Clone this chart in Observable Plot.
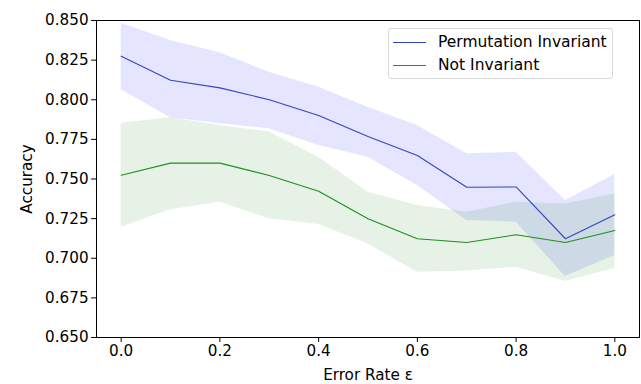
<!DOCTYPE html>
<html>
<head>
<meta charset="utf-8">
<script src="https://cdn.jsdelivr.net/npm/d3@7"></script>
<script src="https://cdn.jsdelivr.net/npm/@observablehq/plot@0.6"></script>
<style>
  html, body { margin: 0; padding: 0; background: #fff; }
  #wrap { position: relative; width: 641px; height: 384px; font-family: "DejaVu Sans", sans-serif; }
  #legend { position: absolute; left: 388px; top: 28px; width: 225px; height: 51px; box-sizing: border-box;
    border: 1px solid #d9d9d9; border-radius: 3px; background: rgba(255,255,255,0.8);
    font-family: "DejaVu Sans", sans-serif; font-size: 15.5px; color: #000; }
  .row { position: absolute; left: 4px; height: 18px; display: flex; align-items: center; white-space: nowrap; }
  .sw { width: 33px; height: 0; border-top: 1.2px solid; margin-right: 12px; }
</style>
</head>
<body>
<div id="wrap">
  <div id="chart"></div>
  <div id="legend">
    <div class="row" style="top:4px"><div class="sw" style="border-color:#3346c0"></div><span>Permutation Invariant</span></div>
    <div class="row" style="top:27px"><div class="sw" style="border-color:#1f8f1f"></div><span>Not Invariant</span></div>
  </div>
</div>
<script>
const eps = [0, 0.1, 0.2, 0.3, 0.4, 0.5, 0.6, 0.7, 0.8, 0.9, 1.0];
const permMean = [0.8275, 0.8123, 0.8075, 0.800, 0.790, 0.7768, 0.7648, 0.7448, 0.745, 0.7123, 0.7274];
const permLo   = [0.8063, 0.7886, 0.7848, 0.7817, 0.7711, 0.7638, 0.7459, 0.7238, 0.7227, 0.6885, 0.7017];
const permHi   = [0.8483, 0.8374, 0.8296, 0.8174, 0.8079, 0.7953, 0.7837, 0.7659, 0.7669, 0.7364, 0.7528];
const notMean  = [0.7524, 0.760, 0.760, 0.7522, 0.7423, 0.7249, 0.7123, 0.7099, 0.7148, 0.7099, 0.7175];
const notLo    = [0.7196, 0.7306, 0.7354, 0.7249, 0.7213, 0.7091, 0.6912, 0.6919, 0.6944, 0.6853, 0.6937];
const notHi    = [0.7852, 0.7886, 0.7838, 0.7796, 0.7638, 0.7417, 0.7333, 0.729, 0.7354, 0.7343, 0.7406];
const xTicks = [0, 0.2, 0.4, 0.6, 0.8, 1.0];
const yTicks = [0.65, 0.675, 0.7, 0.725, 0.75, 0.775, 0.8, 0.825, 0.85];

const perm = eps.map((e, i) => ({x: e, m: permMean[i], lo: permLo[i], hi: permHi[i]}));
const notI = eps.map((e, i) => ({x: e, m: notMean[i], lo: notLo[i], hi: notHi[i]}));

const chart = Plot.plot({
  width: 641,
  height: 384,
  marginLeft: 96,
  marginRight: 2,
  marginTop: 20,
  marginBottom: 47,
  style: {fontFamily: "'DejaVu Sans', sans-serif", fontSize: "15.2px", color: "#000", background: "#fff"},
  x: {domain: [-0.05, 1.05]},
  y: {domain: [0.65, 0.85]},
  marks: [
    Plot.areaY(perm, {x: "x", y1: "lo", y2: "hi", fill: "blue", fillOpacity: 0.1}),
    Plot.areaY(notI, {x: "x", y1: "lo", y2: "hi", fill: "green", fillOpacity: 0.1}),
    Plot.line(perm, {x: "x", y: "m", stroke: "#3346c0", strokeWidth: 1.1}),
    Plot.line(notI, {x: "x", y: "m", stroke: "#1f8f1f", strokeWidth: 1.1}),
    Plot.frame({stroke: "#000", strokeWidth: 1}),
    Plot.axisX({ticks: xTicks, tickFormat: d3.format(".1f"), tickSize: 4.9, tickPadding: 3, fontSize: 15.2,
      label: "Error Rate ε", labelAnchor: "center", labelArrow: "none", labelOffset: 42}),
    Plot.axisY({ticks: yTicks, tickFormat: d3.format(".3f"), tickSize: 4.9, tickPadding: 3, fontSize: 15.2,
      label: "Accuracy", labelAnchor: "center", labelArrow: "none", labelOffset: 75})
  ]
});
document.getElementById("chart").appendChild(chart);
</script>
</body>
</html>
